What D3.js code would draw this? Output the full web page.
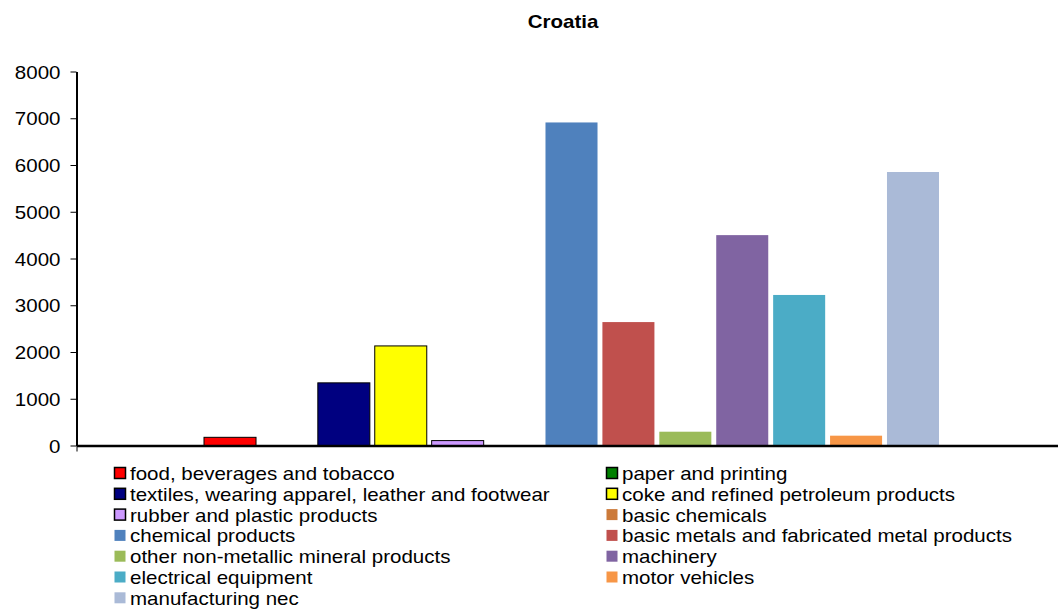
<!DOCTYPE html>
<html lang="en">

<head>
    <meta charset="UTF-8">
    <title>Croatia</title>
    <script src="https://d3js.org/d3.v7.min.js"></script>
    <style type="text/css">
        body {
            margin: 0;
            background: #fff;
        }

        text {
            font-family: "Liberation Sans", Arial, sans-serif;
            fill: #000;
        }
    </style>
</head>

<body>
    <div id="graph"></div>
</body>
<script>

    // data
    var title = "Croatia";
    var sectors = [
        "food, beverages and tobacco",
        "paper and printing",
        "textiles, wearing apparel, leather and footwear",
        "coke and refined petroleum products",
        "rubber and plastic products",
        "basic chemicals",
        "chemical products",
        "basic metals and fabricated metal products",
        "other non-metallic mineral products",
        "machinery",
        "electrical equipment",
        "motor vehicles",
        "manufacturing nec"
    ];
    var values = [175, 0, 1340, 2130, 105, 0, 6910, 2640, 295, 4500, 3220, 210, 5850];
    var colors = ["#ff0000", "#008000", "#000080", "#ffff00", "#cc99ff", "#cc7a3a",
        "#4f81bd", "#c0504d", "#9bbb59", "#8064a2", "#4bacc6", "#f79646", "#aabad7"];
    var outlined = [true, true, true, true, true, false, false, false, false, false, false, false, false];
    var yTicks = [0, 1000, 2000, 3000, 4000, 5000, 6000, 7000, 8000];

    var width = 1058, height = 610;
    var stretch = 1.14; // text in the picture is a bit wider than plain Arial

    var svg = d3.select("#graph")
        .append("svg")
        .attr("width", width)
        .attr("height", height);

    var axisX = 76.5, axisRight = 1058, baseY = 445.5, topY = 71.5;

    var yscale = d3.scaleLinear()
        .domain([0, 8000])
        .range([baseY, topY]);

    // one category, 13 series side by side
    var xscale = d3.scaleBand()
        .domain(sectors)
        .range([204, 939])
        .paddingInner(0.086)
        .paddingOuter(0);

    // title
    svg.append("text")
        .attr("transform", "translate(563, 28) scale(" + stretch + ",1)")
        .attr("text-anchor", "middle")
        .style("font-size", "18px")
        .style("font-weight", "bold")
        .text(title);

    // bars
    svg.selectAll("rect.bar")
        .data(values)
        .enter()
        .append("rect")
        .attr("class", "bar")
        .attr("x", function (d, i) { return xscale(sectors[i]); })
        .attr("width", xscale.bandwidth())
        .attr("y", function (d) { return yscale(d); })
        .attr("height", function (d) { return baseY - yscale(d); })
        .attr("fill", function (d, i) { return colors[i]; })
        .attr("stroke", function (d, i) { return outlined[i] && d > 0 ? "#000" : "none"; })
        .attr("stroke-width", 1);

    // y axis
    var y_axis = d3.axisLeft(yscale)
        .tickValues(yTicks)
        .tickSize(6)
        .tickSizeOuter(0)
        .tickFormat(d3.format("d"));

    var gy = svg.append("g")
        .attr("transform", "translate(" + axisX + ",0)")
        .call(y_axis);
    gy.select(".domain").attr("stroke", "#000").attr("stroke-width", 2);
    gy.selectAll(".tick line").attr("stroke", "#000").attr("stroke-width", 1);
    gy.selectAll(".tick text")
        .attr("x", null)
        .attr("dy", null)
        .attr("transform", "translate(-16,6.5) scale(" + stretch + ",1)")
        .style("font-size", "18px")
        .attr("fill", "#000");

    // x axis line with a small tick at the start
    var xAxisScale = d3.scaleLinear().domain([0, 1]).range([axisX, axisRight]);
    var x_axis = d3.axisBottom(xAxisScale).tickValues([0]).tickSize(6).tickSizeOuter(0).tickFormat("");
    var gx = svg.append("g")
        .attr("transform", "translate(0," + baseY + ")")
        .call(x_axis);
    gx.select(".domain").attr("stroke", "#000").attr("stroke-width", 2.5);
    gx.selectAll(".tick line").attr("stroke", "#000");

    // legend, two columns
    var legendCols = [114, 606];
    var legendY0 = 480, legendStep = 20.8;
    var legend = svg.selectAll(".legend")
        .data(sectors)
        .enter()
        .append("g")
        .attr("class", "legend")
        .attr("transform", function (d, i) {
            return "translate(" + legendCols[i % 2] + "," + (legendY0 + Math.floor(i / 2) * legendStep) + ")";
        });

    legend.append("rect")
        .attr("x", 0.5)
        .attr("y", -12.5)
        .attr("width", 11)
        .attr("height", 11)
        .attr("fill", function (d, i) { return colors[i]; })
        .attr("stroke", function (d, i) { return outlined[i] ? "#000" : "none"; })
        .attr("stroke-width", 1.5);

    legend.append("text")
        .attr("transform", "translate(16,0) scale(" + stretch + ",1)")
        .style("font-size", "18px")
        .text(function (d) { return d; });

</script>

</html>
